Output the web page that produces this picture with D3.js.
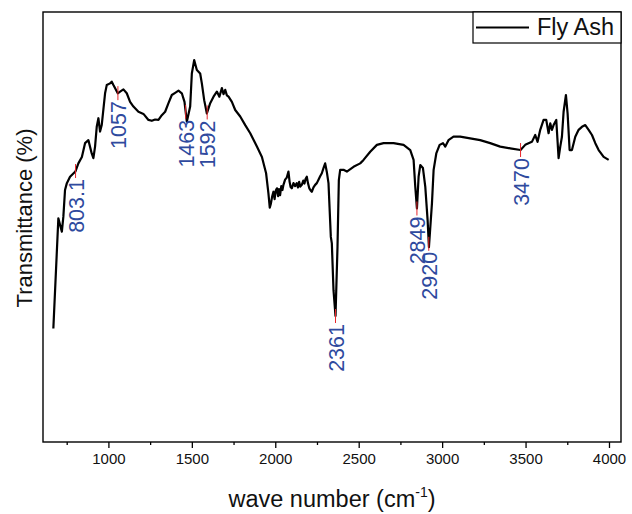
<!DOCTYPE html>
<html>
<head>
<meta charset="utf-8">
<script src="https://cdn.jsdelivr.net/npm/d3@7"></script>
<style>
  html, body { margin: 0; padding: 0; background: #fff; }
  svg { display: block; font-family: "Liberation Sans", Arial, sans-serif; }
</style>
</head>
<body>
<svg id="chart" width="632" height="514"></svg>
<script>
// ---- data ----
const wavenumber = [
  670, 700, 721, 730, 740, 751, 770, 802, 820, 841, 860, 880, 900, 910, 920, 930, 940, 950, 960,
  980, 990, 1010, 1020, 1030, 1056, 1070, 1090, 1110, 1130, 1150, 1180, 1210, 1240, 1260, 1280,
  1300, 1320, 1340, 1360, 1380, 1400, 1420, 1440, 1456, 1470, 1490, 1500, 1514, 1530, 1550, 1560,
  1574, 1590, 1610, 1630, 1650, 1665, 1680, 1690, 1700, 1710, 1720, 1740, 1760, 1790, 1820, 1850,
  1890, 1920, 1945, 1959, 1967, 1974, 1981, 1989, 1996, 2003, 2010, 2017, 2022, 2029, 2036, 2043,
  2049, 2059, 2069, 2079, 2086, 2092, 2099, 2109, 2119, 2129, 2136, 2143, 2150, 2159, 2168, 2175,
  2182, 2189, 2196, 2204, 2212, 2219, 2229, 2239, 2249, 2259, 2269, 2279, 2290, 2299, 2309, 2319,
  2333, 2339, 2349, 2361, 2373, 2381, 2389, 2409, 2429, 2469, 2509, 2529, 2569, 2609, 2649, 2709,
  2769, 2809, 2829, 2839, 2849, 2859, 2869, 2885, 2899, 2913, 2921, 2939, 2949, 2965, 2985, 3005,
  3019, 3038, 3068, 3108, 3168, 3228, 3288, 3348, 3408, 3470, 3498, 3538, 3558, 3572, 3588, 3608,
  3624, 3638, 3648, 3658, 3668, 3684, 3698, 3708, 3718, 3728, 3742, 3752, 3764, 3778, 3798, 3818,
  3838, 3858, 3878, 3898, 3918, 3938, 3968, 3998
];
const transmittance = [
  26.4, 52.0, 48.9, 52.4, 58.6, 60.2, 61.7, 62.9, 64.8, 66.3, 69.5, 70.2, 67.1, 66.0, 68.7, 73.3, 75.3, 72.2, 73.7,
  81.1, 83.0, 83.4, 83.8, 83.0, 81.1, 81.5, 82.0, 81.1, 79.1, 78.0, 76.8, 76.3, 74.9, 74.7, 75.0,
  74.9, 76.0, 76.8, 78.8, 80.7, 81.2, 81.7, 81.1, 79.1, 74.5, 78.0, 85.7, 88.8, 86.5, 85.7, 83.4,
  79.5, 76.4, 78.8, 80.3, 81.5, 80.3, 82.3, 80.9, 81.9, 80.6, 80.3, 79.1, 77.2, 75.7, 73.7, 71.8,
  68.7, 66.3, 62.5, 57.8, 54.5, 55.5, 57.0, 58.2, 56.5, 58.5, 59.0, 57.2, 58.8, 57.4, 59.5, 58.6,
  59.8, 61.0, 61.5, 62.9, 60.5, 59.3, 59.0, 60.2, 59.5, 60.2, 59.2, 60.5, 59.4, 59.8, 60.8, 60.1,
  61.2, 61.7, 60.2, 59.0, 58.5, 58.2, 59.2, 59.8, 60.2, 61.0, 61.8, 62.5, 63.8, 64.8, 62.8, 60.2,
  47.7, 46.2, 35.3, 29.3, 45.4, 60.9, 63.3, 63.3, 62.9, 64.0, 64.8, 65.6, 67.5, 69.1, 69.5, 69.5,
  69.1, 67.9, 65.6, 59.4, 54.3, 61.7, 64.4, 63.7, 59.4, 51.6, 45.3, 55.5, 63.3, 67.1, 69.1, 69.5,
  68.7, 70.2, 71.0, 71.0, 70.6, 70.2, 69.5, 68.7, 68.3, 67.9, 69.1, 69.8, 71.4, 69.8, 72.6, 74.9,
  74.9, 71.8, 74.1, 72.6, 73.7, 74.9, 66.0, 68.7, 71.0, 76.8, 80.7, 76.4, 67.9, 67.9, 71.0, 72.6,
  73.3, 73.7, 72.6, 71.4, 69.5, 67.9, 66.3, 65.6
];
const peakPositions = [803.1, 1057, 1463, 1592, 2361, 2849, 2920, 3470];
const peakLabels = ["803.1", "1057", "1463", "1592", "2361", "2849", "2920", "3470"];
const xTickValues = [1000, 1500, 2000, 2500, 3000, 3500, 4000];
const xMinorTicks = [750, 1250, 1750, 2250, 2750, 3250, 3750];
const seriesName = "Fly Ash";

// ---- layout ----
const svg = d3.select("#chart");
const pL = 43, pR = 621, pT = 12, pB = 442;

const x = d3.scaleLinear().domain([608, 4072]).range([pL, pR]);
const y = d3.scaleLinear().domain([0, 100]).range([pB, pT]);

const data = wavenumber.map((w, i) => ({ w, t: transmittance[i] }));

// frame
svg.append("rect")
  .attr("x", pL).attr("y", pT)
  .attr("width", pR - pL).attr("height", pB - pT)
  .attr("fill", "none").attr("stroke", "#000").attr("stroke-width", 1.4);

// bottom axis
const xAxis = d3.axisBottom(x).tickValues(xTickValues).tickSize(6).tickPadding(5)
  .tickFormat(d3.format("d"));
const gx = svg.append("g").attr("transform", `translate(0,${pB})`).call(xAxis);
gx.select(".domain").remove();
gx.selectAll(".tick line").attr("stroke", "#000").attr("stroke-width", 1.3);
gx.selectAll(".tick text").attr("font-size", 15).attr("fill", "#111")
  .attr("font-family", '"Liberation Sans", Arial, sans-serif');

const xMinor = d3.axisBottom(x).tickValues(xMinorTicks).tickSize(3).tickFormat("");
const gxm = svg.append("g").attr("transform", `translate(0,${pB})`).call(xMinor);
gxm.select(".domain").remove();
gxm.selectAll(".tick line").attr("stroke", "#000").attr("stroke-width", 1.3);

// curve
const line = d3.line().x(d => x(d.w)).y(d => y(d.t)).curve(d3.curveLinear);
svg.append("path").datum(data)
  .attr("d", line)
  .attr("fill", "none").attr("stroke", "#000")
  .attr("stroke-width", 2.2).attr("stroke-linejoin", "round");

// peak markers and labels
const bis = d3.bisector(d => d.w).left;
function interp(w) {
  const i = Math.max(1, Math.min(data.length - 1, bis(data, w)));
  const a = data[i - 1], b = data[i];
  const f = (w - a.w) / (b.w - a.w);
  return a.t + f * (b.t - a.t);
}
const peaks = peakPositions.map((w, i) => ({ w, label: peakLabels[i], t: interp(w) }));

svg.append("g").selectAll("line").data(peaks).join("line")
  .attr("x1", d => x(d.w)).attr("x2", d => x(d.w))
  .attr("y1", d => y(d.t) - 7).attr("y2", d => y(d.t) + 7)
  .attr("stroke", "#e8262a").attr("stroke-width", 1);

svg.append("g").selectAll("text").data(peaks).join("text")
  .attr("transform", d => `translate(${x(d.w) + 1},${y(d.t) + 8}) rotate(-90)`)
  .attr("text-anchor", "end")
  .attr("dominant-baseline", "central")
  .attr("font-size", 21.5)
  .attr("fill", "#2f4a9e")
  .text(d => d.label);

// axis titles
const xt = svg.append("text")
  .attr("x", (pL + pR) / 2).attr("y", 507)
  .attr("text-anchor", "middle").attr("font-size", 23.5).attr("fill", "#111");
xt.append("tspan").text("wave number (cm");
xt.append("tspan").attr("font-size", 14).attr("dy", -10).text("-1");
xt.append("tspan").attr("dy", 10).text(")");

svg.append("text")
  .attr("transform", `translate(32,218) rotate(-90)`)
  .attr("text-anchor", "middle").attr("font-size", 22).attr("fill", "#111")
  .text("Transmittance (%)");

// legend
const lg = svg.append("g");
lg.append("rect")
  .attr("x", 473).attr("y", pT).attr("width", pR - 473).attr("height", 31)
  .attr("fill", "#fff").attr("stroke", "#000").attr("stroke-width", 1.2);
lg.append("line").attr("x1", 476).attr("x2", 529).attr("y1", 27.5).attr("y2", 27.5)
  .attr("stroke", "#000").attr("stroke-width", 2);
lg.append("text").attr("x", 537).attr("y", 35).attr("font-size", 23.5).attr("fill", "#111")
  .text(seriesName);
</script>
</body>
</html>
